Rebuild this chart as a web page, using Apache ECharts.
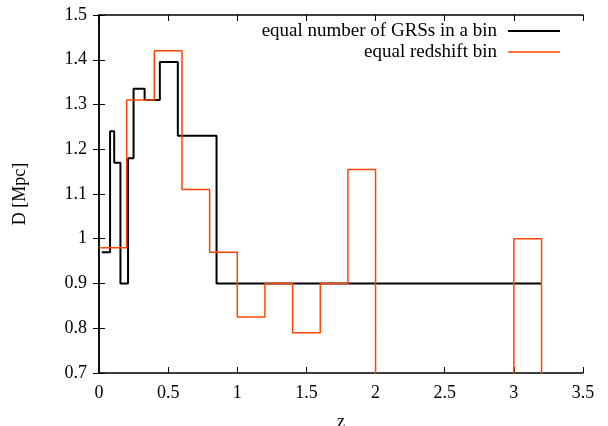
<!DOCTYPE html>
<html>
<head>
<meta charset="utf-8">
<script src="https://cdn.jsdelivr.net/npm/echarts@6/dist/echarts.min.js"></script>
<style>html,body{margin:0;padding:0;background:#fff}#c{width:608px;height:426px}</style>
</head>
<body>
<div id="c"></div>
<script>
// Equal number of GRSs per bin: bin edges and values
var blackEdges = [0.02, 0.08, 0.11, 0.155, 0.21, 0.25, 0.33, 0.44, 0.57, 0.85, 3.2];
var blackValues = [0.97, 1.24, 1.17, 0.90, 1.18, 1.335, 1.31, 1.395, 1.23, 0.90];
// Equal redshift bins (width 0.2); empty bins have value 0 (below axis)
var orangeEdges = [0, 0.2, 0.4, 0.6, 0.8, 1.0, 1.2, 1.4, 1.6, 1.8, 2.0, 2.2, 2.4, 2.6, 2.8, 3.0, 3.2, 3.4];
var orangeValues = [0.98, 1.31, 1.42, 1.11, 0.97, 0.825, 0.9, 0.79, 0.9, 1.155, 0, 0, 0, 0, 0, 1.0, 0];
var seriesNames = ['equal number of GRSs in a bin', 'equal redshift bin'];
var seriesColors = ['#000000', '#ff4500'];
var xTitle = 'z';
var yTitle = 'D [Mpc]';

function stepPoints(edges, vals) {
  var pts = [];
  for (var i = 0; i < vals.length; i++) {
    pts.push([edges[i], vals[i]]);
    pts.push([edges[i + 1], vals[i]]);
  }
  return pts;
}

var font = 'Liberation Serif';
var fs = 18;
var chart = echarts.init(document.getElementById('c'), null, {renderer: 'canvas'});
var axisLine = {show: true, lineStyle: {color: '#000', width: 1.5}};
var tick = {show: true, inside: true, length: 6, lineStyle: {color: '#000', width: 1}};

// legend drawn as graphic: text right-aligned, line sample to its right
var legendGraphics = [];
var legendWidths = [2, 1.5];
for (var k = 0; k < seriesNames.length; k++) {
  var yy = 31 + k * 21;
  legendGraphics.push({
    type: 'text', x: 497, y: yy,
    style: {text: seriesNames[k], fill: '#000', font: '19px "' + font + '"', align: 'right', verticalAlign: 'middle'}
  });
  legendGraphics.push({
    type: 'line', shape: {x1: 508, y1: yy, x2: 560, y2: yy},
    style: {stroke: seriesColors[k], lineWidth: legendWidths[k]}
  });
}

chart.setOption({
  animation: false,
  backgroundColor: '#fff',
  grid: {left: 99, right: 25, top: 15, bottom: 53, containLabel: false, outerBoundsMode: 'none'},
  graphic: legendGraphics,
  xAxis: [{
    type: 'value', min: 0, max: 3.5, interval: 0.5,
    name: xTitle, nameLocation: 'middle', nameGap: 40,
    nameTextStyle: {fontFamily: font, fontSize: fs, color: '#000'},
    axisLine: axisLine, axisTick: tick, splitLine: {show: false},
    axisLabel: {fontFamily: font, fontSize: fs, color: '#000', margin: 11}
  }, {
    type: 'value', min: 0, max: 3.5, interval: 0.5, position: 'top',
    axisLine: axisLine, axisTick: tick, splitLine: {show: false},
    axisLabel: {show: false}
  }],
  yAxis: [{
    type: 'value', min: 0.7, max: 1.5, interval: 0.1,
    name: yTitle, nameLocation: 'middle', nameGap: 70, nameRotate: 90,
    nameTextStyle: {fontFamily: font, fontSize: fs, color: '#000'},
    axisLine: axisLine, axisTick: tick, splitLine: {show: false},
    axisLabel: {fontFamily: font, fontSize: fs, color: '#000', margin: 12}
  }, {
    type: 'value', min: 0.7, max: 1.5, interval: 0.1, position: 'right',
    axisLine: axisLine, axisTick: tick, splitLine: {show: false},
    axisLabel: {show: false}
  }],
  series: [{
    name: seriesNames[0], type: 'line', xAxisIndex: 0, yAxisIndex: 0,
    data: stepPoints(blackEdges, blackValues),
    showSymbol: false, symbol: 'none', clip: true,
    lineStyle: {color: seriesColors[0], width: 2},
    itemStyle: {color: seriesColors[0]}
  }, {
    name: seriesNames[1], type: 'line', xAxisIndex: 0, yAxisIndex: 0,
    data: stepPoints(orangeEdges, orangeValues),
    showSymbol: false, symbol: 'none', clip: true,
    lineStyle: {color: seriesColors[1], width: 1.5},
    itemStyle: {color: seriesColors[1]}
  }]
});
</script>
</body>
</html>
